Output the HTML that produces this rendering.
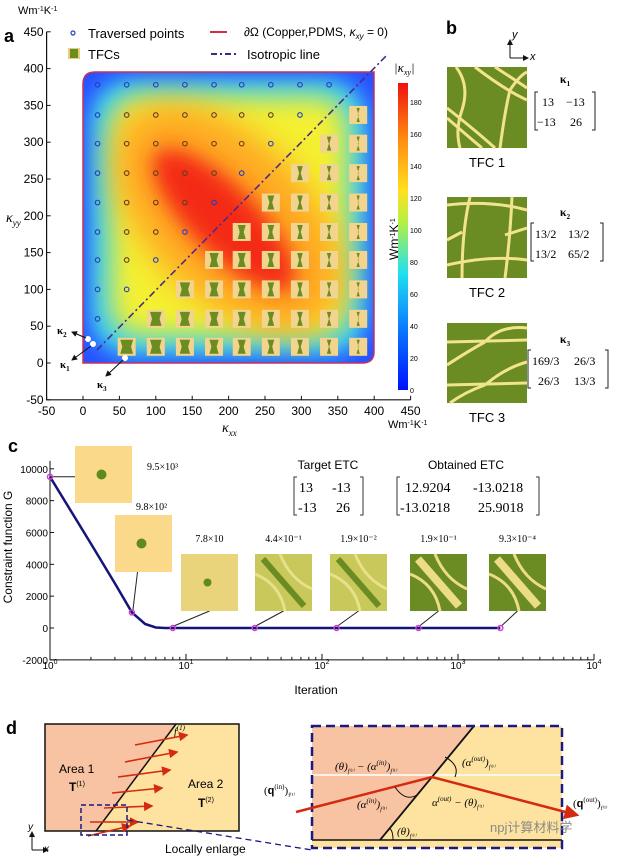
<!DOCTYPE html>
<html><head><meta charset="utf-8"><style>
body{margin:0;background:#fff}
svg{display:block;font-family:"Liberation Sans","Noto Sans CJK SC",sans-serif}
.serif{font-family:"Liberation Serif",serif}
</style></head><body>
<svg id="fig" width="621" height="857" viewBox="0 0 621 857">
<defs>
<filter id="bl" x="-50%" y="-50%" width="200%" height="200%"><feGaussianBlur stdDeviation="16"/></filter>
<filter id="blc" x="-50%" y="-50%" width="200%" height="200%"><feGaussianBlur stdDeviation="10"/></filter>
<filter id="bly" x="-50%" y="-50%" width="200%" height="200%"><feGaussianBlur stdDeviation="13"/></filter>
<filter id="bl2" x="-50%" y="-50%" width="200%" height="200%"><feGaussianBlur stdDeviation="10"/></filter>
<clipPath id="regclip"><path d="M83,84 Q83,72 95,72 L374,72 L374,352 Q374,363 362,363 L83,363 Z"/></clipPath>
<linearGradient id="jet" x1="0" y1="1" x2="0" y2="0">
<stop offset="0" stop-color="#0010ff"/><stop offset="0.2" stop-color="#0a7aff"/><stop offset="0.38" stop-color="#20e0f0"/>
<stop offset="0.55" stop-color="#b8f040"/><stop offset="0.65" stop-color="#ffe020"/><stop offset="0.82" stop-color="#ff8a10"/><stop offset="1" stop-color="#f01010"/>
</linearGradient>
<marker id="ah" markerWidth="6" markerHeight="6" refX="5" refY="3" orient="auto"><path d="M0,0 L6,3 L0,6 Z" fill="#111"/></marker>
<marker id="ahr" markerWidth="6" markerHeight="6" refX="5" refY="3" orient="auto"><path d="M0,0 L6,3 L0,6 Z" fill="#d42a10"/></marker>
</defs>

<!-- PANEL A -->
<text x="4" y="42" font-size="18" font-weight="bold">a</text>
<text x="18" y="14" font-size="11">Wm<tspan baseline-shift="super" font-size="7">-1</tspan>K<tspan baseline-shift="super" font-size="7">-1</tspan></text>
<g clip-path="url(#regclip)">
<rect x="83" y="72" width="291" height="291" fill="#2a50ff"/>
<rect x="90" y="79" width="277" height="277" rx="40" fill="#30d0f8" filter="url(#blc)"/>
<rect x="110" y="96" width="238" height="240" rx="30" fill="#f4f030" filter="url(#bly)"/>
<ellipse cx="228" cy="218" rx="140" ry="80" transform="rotate(45 228 218)" fill="#ffa820" filter="url(#bl)"/>
<ellipse cx="224" cy="220" rx="95" ry="34" transform="rotate(45 224 220)" fill="#f42a12" filter="url(#bl2)"/>
</g>
<path d="M83,84 Q83,72 95,72 L374,72 L374,352 Q374,363 362,363 L83,363 Z" fill="none" stroke="#c8305a" stroke-width="1.5"/>
<g id="axA"></g>
<g id="ptsA"></g>
<line x1="97" y1="350" x2="388" y2="54" stroke="#4a2a8a" stroke-width="1.6" stroke-dasharray="7,3,2,3"/>
<circle cx="88" cy="339" r="3" fill="#fff"/>
<circle cx="93" cy="344" r="3" fill="#fff"/>
<circle cx="125" cy="358" r="3" fill="#fff"/>
<line x1="86" y1="338" x2="72" y2="332" stroke="#111" marker-end="url(#ah)"/>
<line x1="91" y1="346" x2="72" y2="360" stroke="#111" marker-end="url(#ah)"/>
<line x1="123" y1="360" x2="106" y2="376" stroke="#111" marker-end="url(#ah)"/>
<text x="57" y="334" font-size="11" font-weight="bold" class="serif">κ<tspan font-size="7" dy="3">2</tspan></text>
<text x="60" y="368" font-size="11" font-weight="bold" class="serif">κ<tspan font-size="7" dy="3">1</tspan></text>
<text x="97" y="388" font-size="11" font-weight="bold" class="serif">κ<tspan font-size="7" dy="3">3</tspan></text>
<g>
<circle cx="73" cy="33" r="2" fill="none" stroke="#2040c0" stroke-width="1.2"/>
<text x="88" y="38" font-size="13">Traversed points</text>
<rect x="68" y="48" width="12" height="11" fill="#e8d07a"/><rect x="70" y="49" width="8" height="9" fill="#6b8c21"/>
<text x="88" y="59" font-size="13">TFCs</text>
<line x1="210" y1="32" x2="227" y2="32" stroke="#d03040" stroke-width="2"/>
<text x="244" y="36" font-size="12">∂Ω (Copper,PDMS, <tspan font-style="italic">κ</tspan><tspan font-size="8" dy="3" font-style="italic">xy</tspan><tspan dy="-3"> = 0)</tspan></text>
<line x1="211" y1="54" x2="237" y2="54" stroke="#3a2a8a" stroke-width="2" stroke-dasharray="6,3,2,3"/>
<text x="247" y="59" font-size="13">Isotropic line</text>
</g>
<text x="6" y="222" font-size="14" font-style="italic" class="serif">κ<tspan font-size="9" dy="4">yy</tspan></text>
<text x="222" y="432" font-size="14" font-style="italic" class="serif">κ<tspan font-size="9" dy="4">xx</tspan></text>
<text x="388" y="428" font-size="11">Wm<tspan baseline-shift="super" font-size="7">-1</tspan>K<tspan baseline-shift="super" font-size="7">-1</tspan></text>
<rect x="398" y="83" width="10" height="307" fill="url(#jet)"/>
<g id="cbt"></g>
<text x="394" y="72" font-size="13" font-style="italic" class="serif">|κ<tspan font-size="8" dy="3">xy</tspan><tspan dy="-3">|</tspan></text>
<text transform="translate(398,260) rotate(-90)" font-size="12">Wm<tspan baseline-shift="super" font-size="7">-1</tspan>K<tspan baseline-shift="super" font-size="7">-1</tspan></text>

<!-- PANEL B -->
<text x="446" y="34" font-size="18" font-weight="bold">b</text>
<g stroke="#111" fill="none">
<line x1="510" y1="58" x2="510" y2="40" marker-end="url(#ah)"/><line x1="510" y1="58" x2="528" y2="58" marker-end="url(#ah)"/>
</g>
<text x="512" y="38" font-size="11" font-style="italic">y</text>
<text x="530" y="60" font-size="11" font-style="italic">x</text>
<g>
<rect x="447" y="67" width="80" height="81" fill="#6b8c22"/>
<g fill="none" stroke="#f2e38f" stroke-width="3">
<path d="M447,108 Q475,130 495,148"/><path d="M447,118 Q470,138 482,148"/><path d="M456,67 Q470,85 462,110 Q455,130 460,148"/>
<path d="M475,67 Q505,90 527,100"/><path d="M495,67 Q515,80 527,88"/><path d="M500,148 Q505,110 510,90 Q520,75 527,72"/>
</g></g>
<text x="487" y="167" font-size="13" text-anchor="middle">TFC 1</text>
<g>
<rect x="447" y="197" width="80" height="81" fill="#6b8c22"/>
<g fill="none" stroke="#f2e38f" stroke-width="3">
<path d="M470,197 Q462,230 462,278"/><path d="M512,197 Q510,240 505,278"/><path d="M447,205 Q490,200 527,210"/>
<path d="M447,265 Q490,255 527,260"/><path d="M447,240 L462,232"/><path d="M505,235 L527,228"/>
</g></g>
<text x="487" y="297" font-size="13" text-anchor="middle">TFC 2</text>
<g>
<rect x="447" y="323" width="80" height="80" fill="#6b8c22"/>
<g fill="none" stroke="#f2e38f" stroke-width="3">
<path d="M447,342 L527,340"/><path d="M447,385 L527,383"/><path d="M485,342 Q500,325 527,328"/>
<path d="M447,365 Q470,350 485,342"/><path d="M485,385 Q505,368 527,362"/><path d="M450,403 Q465,392 485,385"/>
</g></g>
<text x="487" y="422" font-size="13" text-anchor="middle">TFC 3</text>
<g class="serif" font-size="12">
<text x="565" y="83" font-weight="bold" text-anchor="middle">κ<tspan font-size="7" dy="3">1</tspan></text>
<path d="M538,92 h-3 v38 h3 M592,92 h3 v38 h-3" fill="none" stroke="#222"/>
<text x="542" y="106">13</text><text x="566" y="106">−13</text><text x="537" y="126">−13</text><text x="570" y="126">26</text>
<text x="565" y="216" font-weight="bold" text-anchor="middle">κ<tspan font-size="7" dy="3">2</tspan></text>
<path d="M534,223 h-3 v38 h3 M600,223 h3 v38 h-3" fill="none" stroke="#222"/>
<text x="535" y="238">13/2</text><text x="568" y="238">13/2</text><text x="535" y="258">13/2</text><text x="568" y="258">65/2</text>
<text x="565" y="343" font-weight="bold" text-anchor="middle">κ<tspan font-size="7" dy="3">3</tspan></text>
<path d="M531,350 h-3 v38 h3 M605,350 h3 v38 h-3" fill="none" stroke="#222"/>
<text x="532" y="365">169/3</text><text x="574" y="365">26/3</text><text x="538" y="385">26/3</text><text x="574" y="385">13/3</text>
</g>

<!-- PANEL C -->
<text x="8" y="452" font-size="18" font-weight="bold">c</text>
<g id="axC"></g>
<text transform="translate(12,547) rotate(-90)" font-size="12" text-anchor="middle">Constraint function G</text>
<text x="316" y="694" font-size="12" text-anchor="middle">Iteration</text>
<g id="insets"></g>
<path id="curveC" fill="none" stroke="#14147a" stroke-width="2.5"/>
<g id="ptsC"></g>
<g class="serif" font-size="14">
<text x="328" y="469" font-size="12" text-anchor="middle" font-family="Liberation Sans">Target ETC</text>
<path d="M297,477 h-3 v38 h3 M360,477 h3 v38 h-3" fill="none" stroke="#333"/>
<text x="299" y="492">13</text><text x="332" y="492">-13</text><text x="298" y="512">-13</text><text x="336" y="512">26</text>
<text x="466" y="469" font-size="12" text-anchor="middle" font-family="Liberation Sans">Obtained ETC</text>
<path d="M400,477 h-3 v38 h3 M536,477 h3 v38 h-3" fill="none" stroke="#333"/>
<text x="405" y="492">12.9204</text><text x="473" y="492">-13.0218</text><text x="400" y="512">-13.0218</text><text x="478" y="512">25.9018</text>
</g>

<!-- PANEL D -->
<text x="6" y="734" font-size="18" font-weight="bold">d</text>
<g>
<rect x="45" y="724" width="194" height="107" fill="#fde39f"/>
<path d="M45,724 L176,724 L96,831 L45,831 Z" fill="#f7c3a2"/>
<rect x="45" y="724" width="194" height="107" fill="none" stroke="#111" stroke-width="1.5"/>
<line x1="96" y1="831" x2="176" y2="724" stroke="#111" stroke-width="1.5"/>
<text x="174" y="735" font-size="10" font-style="italic" class="serif">f<tspan font-size="7" dy="-5">(1)</tspan></text>
<g stroke="#d42a10" stroke-width="1.6" marker-end="url(#ahr)">
<line x1="135" y1="745" x2="187" y2="735"/><line x1="125" y1="762" x2="177" y2="752"/><line x1="118" y1="777" x2="170" y2="770"/>
<line x1="112" y1="793" x2="162" y2="788"/><line x1="104" y1="808" x2="152" y2="806"/><line x1="90" y1="822" x2="138" y2="822"/>
<line x1="88" y1="836" x2="130" y2="826"/>
</g>
<text x="59" y="773" font-size="12">Area 1</text>
<text x="69" y="791" font-size="12" font-weight="bold">T<tspan font-size="7" dy="-5" font-weight="normal">(1)</tspan></text>
<text x="188" y="788" font-size="12">Area 2</text>
<text x="198" y="807" font-size="12" font-weight="bold">T<tspan font-size="7" dy="-5" font-weight="normal">(2)</tspan></text>
<rect x="81" y="805" width="46" height="30" fill="none" stroke="#1a1a80" stroke-width="1.5" stroke-dasharray="5,3"/>
<line x1="127" y1="820" x2="312" y2="850" stroke="#1a1a80" stroke-width="1.3" stroke-dasharray="6,4"/>
<line x1="32" y1="850" x2="32" y2="832" stroke="#111" marker-end="url(#ah)"/><line x1="32" y1="850" x2="48" y2="850" marker-end="url(#ah)" stroke="#111"/>
<text x="28" y="830" font-size="10" font-style="italic">y</text><text x="44" y="852" font-size="10" font-style="italic">x</text>
<text x="165" y="853" font-size="12">Locally enlarge</text>
</g>
<g>
<rect x="312" y="726" width="250" height="122" fill="#fde39f"/>
<path d="M312,726 L474,726 L380,840 L312,840 Z" fill="#f7c3a2"/>
<line x1="312" y1="775" x2="562" y2="775" stroke="#fff" stroke-width="1.5"/>
<line x1="312" y1="840" x2="562" y2="840" stroke="#111" stroke-width="1.5"/>
<line x1="380" y1="840" x2="474" y2="726" stroke="#111" stroke-width="1.8"/>
<rect x="312" y="726" width="250" height="122" fill="none" stroke="#1a1a80" stroke-width="2.5" stroke-dasharray="9,5"/>
<path d="M296,812 L432,777 L577,815" fill="none" stroke="#d42a10" stroke-width="2.5" marker-end="url(#ahr)"/>
<path d="M395,787 Q405,802 417,795" fill="none" stroke="#111"/><path d="M445,757 Q460,765 455,777" fill="none" stroke="#111"/>
<path d="M393,840 Q393,830 389,828" fill="none" stroke="#111"/>
<g class="serif" font-size="11" font-style="italic">
<text x="335" y="770">(θ)<tspan font-size="6" dy="3">f⁽¹⁾</tspan><tspan dy="-3"> − (α</tspan><tspan font-size="7" dy="-5">(in)</tspan><tspan dy="5">)</tspan><tspan font-size="6" dy="3">f⁽¹⁾</tspan></text>
<text x="462" y="766">(α<tspan font-size="7" dy="-5">(out)</tspan><tspan dy="5">)</tspan><tspan font-size="6" dy="3">f⁽¹⁾</tspan></text>
<text x="357" y="808">(α<tspan font-size="7" dy="-5">(in)</tspan><tspan dy="5">)</tspan><tspan font-size="6" dy="3">f⁽¹⁾</tspan></text>
<text x="432" y="806">α<tspan font-size="7" dy="-5">(out)</tspan><tspan dy="5"> − (θ)</tspan><tspan font-size="6" dy="3">f⁽¹⁾</tspan></text>
<text x="397" y="835">(θ)<tspan font-size="6" dy="3">f⁽¹⁾</tspan></text>
</g>
<text x="264" y="794" font-size="11" class="serif">(<tspan font-weight="bold" font-family="Liberation Sans">q</tspan><tspan font-size="7" dy="-5">(in)</tspan><tspan dy="5">)</tspan><tspan font-size="6" dy="3">f⁽¹⁾</tspan></text>
<text x="573" y="807" font-size="11" class="serif">(<tspan font-weight="bold" font-family="Liberation Sans">q</tspan><tspan font-size="7" dy="-5">(out)</tspan><tspan dy="5">)</tspan><tspan font-size="6" dy="3">f⁽¹⁾</tspan></text>
<text x="490" y="832" font-size="13" fill="#8a8a8a">npj计算材料学</text>
</g>

<script>
const NS="http://www.w3.org/2000/svg";
function mk(p,tag,attrs,txt){const e=document.createElementNS(NS,tag);for(const k in attrs)e.setAttribute(k,attrs[k]);if(txt!==undefined)e.textContent=txt;p.appendChild(e);return e;}
// ---- Panel A data ----
const aTicks=[-50,0,50,100,150,200,250,300,350,400,450];
const gridKxx=[20,60,100,140,180,218,258,298,338,378];
const gridKyy=[378,337,298,258,218,178,140,100,60,22];
const cbTicks=[0,20,40,60,80,100,120,140,160,180];
const cbMax=192;
function axX(v){return 83+(v)*0.728;}
function axY(v){return 363-(v)*0.736;}
const axA=document.getElementById('axA');
mk(axA,'path',{d:`M${axX(-50)},${axY(450)} V${axY(-50)} H${axX(450)}`,fill:'none',stroke:'#111','stroke-width':1.2});
aTicks.forEach(t=>{
  const x=axX(t),y=axY(t);
  let l=mk(axA,'line',{x1:x,y1:axY(-50),x2:x,y2:axY(-50)-4,stroke:'#111'});
  
  
  let tx=mk(axA,'text',{x:x,y:axY(-50)+15,'font-size':12,'text-anchor':'middle'},String(t));
  
  
  let l2=mk(axA,'line',{x1:axX(-50),y1:y,x2:axX(-50)+4,y2:y,stroke:'#111'});
  
  
  let ty=mk(axA,'text',{x:axX(-50)-3,y:y+4,'font-size':12,'text-anchor':'end'},String(t));
  
  
});
const cbt=document.getElementById('cbt');
cbTicks.forEach(t=>{
  const y=390-t/cbMax*307;
  let tx=mk(cbt,'text',{x:410,y:y+3,'font-size':7},String(t));
  
  
});
const ptsA=document.getElementById('ptsA');
gridKyy.forEach((ky,r)=>{
  gridKxx.forEach((kx,c)=>{
    const x=axX(kx),y=axY(ky);
    if(c<9-r){
      let e=mk(ptsA,'circle',{cx:x,cy:y,r:2.3,fill:'none',stroke:(c>0&&c<8-r&&r>0&&r<8)?'#6a3a20':'#2040c0','stroke-width':1.1});
      
      
    } else if(c>9-r){
      const g=mk(ptsA,'g',{});
      
      
      mk(g,'rect',{x:x-9,y:y-9,width:18,height:18,fill:'#f2d48e'});
      const w=Math.max(1,12-c*1.2);
      mk(g,'path',{d:`M${x-w/2-1},${y-7} L${x+w/2+1},${y-7} L${x+w/2-1},${y} L${x+w/2+1},${y+7} L${x-w/2-1},${y+7} L${x-w/2+1},${y} Z`,fill:'#6b8c21'});
    }
  });
});
// ---- Panel C data ----
const cXTicks=[0,1,2,3,4];
const cYTicks=[10000,8000,6000,4000,2000,0,-2000];
const curveIter=[1,2,3,4,5,6,7,8,32,128,512,2048];
const curveG=[9500,5300,2800,980,250,30,5,78,0.44,0.019,0.19,0.00093];
const markIter=[1,4,8,32,128,512,2048];
const markG=[9500,980,78,0.44,0.019,0.19,0.00093];
const markLabels=["9.5×10³","9.8×10²","7.8×10","4.4×10⁻¹","1.9×10⁻²","1.9×10⁻¹","9.3×10⁻⁴"];
function cx(it){return 50+Math.log10(it)*136;}
function cy(g){return 628-g*(191/12000);}
const axC=document.getElementById('axC');
mk(axC,'path',{d:`M${cx(1)},${cy(10500)} V${cy(-2000)} H${cx(10000)}`,fill:'none',stroke:'#111','stroke-width':1});
cYTicks.forEach(t=>{
  let l=mk(axC,'line',{x1:cx(1),y1:cy(t),x2:cx(1)+4,y2:cy(t),stroke:'#111'});
  
  
  let tx=mk(axC,'text',{x:cx(1)-2,y:cy(t)+4,'font-size':10,'text-anchor':'end'},String(t));
  
  
});
cXTicks.forEach(p=>{
  const x=cx(Math.pow(10,p));
  let tx=mk(axC,'text',{x:x,y:669,'font-size':10,'text-anchor':'middle'},'10');
  
  
  mk(tx,'tspan',{'font-size':7,dy:-5},String(p));
  mk(axC,'line',{x1:x,y1:cy(-2000),x2:x,y2:cy(-2000)-6,stroke:'#111'});
  if(p<4)for(let m=2;m<10;m++){const xm=cx(m*Math.pow(10,p));mk(axC,'line',{x1:xm,y1:cy(-2000),x2:xm,y2:cy(-2000)-3,stroke:'#111'});}
});
let d='';
curveIter.forEach((it,i)=>{d+=(i?' L':'M')+cx(it).toFixed(1)+','+cy(Math.max(0,curveG[i]<100&&i>5?0:curveG[i])).toFixed(1);});
document.getElementById('curveC').setAttribute('d',d);
const insetBoxes=[[75,446],[115,515],[181,554],[255,554],[330,554],[410,554],[489,554]];
const insets=document.getElementById('insets');
const ptsC=document.getElementById('ptsC');
markIter.forEach((it,i)=>{
  const [bx,by]=insetBoxes[i];const s=57;
  const g=mk(insets,'g',{});
  
  
  const px=cx(it),py=cy(markG[i]<100&&i>1?0:markG[i]);
  if(i===0) mk(g,'line',{x1:px,y1:py,x2:bx,y2:py,stroke:'#222'});
  else mk(g,'line',{x1:px+1,y1:py-2,x2:bx+s/2+(i===1?-6:0),y2:by+s,stroke:'#222'});
  if(i<3){
    mk(g,'rect',{x:bx,y:by,width:s,height:s,fill:i<2?'#fbd98a':'#e9d47c'});
    mk(g,'circle',{cx:bx+s/2-2,cy:by+s/2,r:i===2?4:5,fill:'#5e8a1e'});
  } else {
    mk(g,'rect',{x:bx,y:by,width:s,height:s,fill:i<5?'#c9c85a':'#6b8c22'});
    const c2=i<5?'#6b8c22':'#ecdc88';
    mk(g,'path',{d:`M${bx+8},${by+5} L${bx+s-8},${by+s-5}`,stroke:c2,'stroke-width':i<5?6:8,fill:'none'});
    mk(g,'path',{d:`M${bx},${by+20} Q${bx+25},${by+30} ${bx+30},${by+s}`,stroke:i<5?'#e8e08a':'#ecdc88','stroke-width':3,fill:'none'});
    mk(g,'path',{d:`M${bx+25},${by} Q${bx+35},${by+25} ${bx+s},${by+35}`,stroke:i<5?'#e8e08a':'#ecdc88','stroke-width':3,fill:'none'});
  }
  const lx=i===0?bx+s+15:(i===1?bx+21:bx+s/2);
  const ly=i===0?470:(i===1?510:542);
  let t=mk(insets,'text',{x:lx,y:ly,'font-size':10,'text-anchor':i<2?'start':'middle','font-family':'Liberation Serif'},markLabels[i]);
  
  
  let c=mk(ptsC,'circle',{cx:px,cy:py,r:2.5,fill:'none',stroke:'#d040d0','stroke-width':1.5});
  
  
});
</script>
</svg>
</body></html>
